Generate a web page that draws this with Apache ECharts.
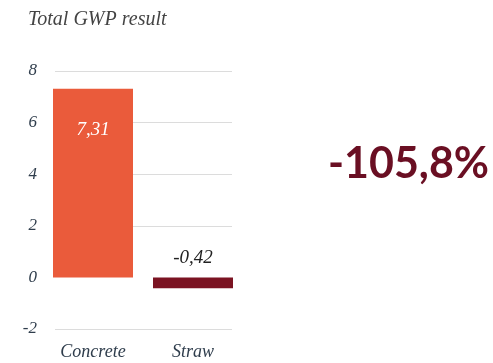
<!DOCTYPE html>
<html>
<head>
<meta charset="utf-8">
<script src="https://cdn.jsdelivr.net/npm/echarts@6/dist/echarts.min.js"></script>
<style>
  html, body { margin: 0; padding: 0; background: #fff; }
  #chart { width: 493px; height: 363px; }
</style>
</head>
<body>
<div id="chart"></div>
<script>
// Total global warming potential per building material
const categories = ['Concrete', 'Straw'];
const gwpValues = [7.31, -0.42];
const barColors = ['#EA5B3B', '#7B1322'];
const yTicks = [-2, 0, 2, 4, 6, 8];
// headline figure: change of the straw result relative to concrete
const headline = '-105,8%';

const serif = '"Liberation Serif", "DejaVu Serif", serif';
const fmt = v => v.toFixed(2).replace('.', ',');

const chart = echarts.init(document.getElementById('chart'));
chart.setOption({
  animation: false,
  title: {
    text: 'Total GWP result',
    left: 23, top: 5,
    textStyle: { fontFamily: serif, fontStyle: 'italic', fontWeight: 'normal', fontSize: 20, color: '#444' }
  },
  graphic: [{
    type: 'text',
    left: 328, top: 143,
    style: {
      text: headline,
      font: 'bold 43px Lato, "Open Sans", sans-serif',
      fill: '#6A0F23'
    }
  }],
  grid: [
    // grid carrying the horizontal rules and value labels
    { left: 55, width: 177, top: 71, height: 258 },
    // grid carrying the bars
    { left: 43, width: 200, top: 71, height: 258 }
  ],
  xAxis: [
    { gridIndex: 0, type: 'category', data: categories, show: false },
    {
      gridIndex: 1, type: 'category', data: categories,
      axisLine: { show: false }, axisTick: { show: false },
      axisLabel: { fontFamily: serif, fontStyle: 'italic', fontSize: 18, color: '#2f3d4c', margin: 14 }
    }
  ],
  yAxis: [
    {
      gridIndex: 0, type: 'value', min: yTicks[0], max: yTicks[yTicks.length - 1], interval: 2,
      axisLine: { show: false }, axisTick: { show: false },
      axisLabel: { fontFamily: serif, fontStyle: 'italic', fontSize: 17, color: '#2f3d4c', margin: 18 },
      splitLine: { lineStyle: { color: ['#dcdcdc', 'transparent', '#dcdcdc', '#dcdcdc', '#dcdcdc', '#dcdcdc'], width: 1 } }
    },
    {
      gridIndex: 1, type: 'value', min: yTicks[0], max: yTicks[yTicks.length - 1], interval: 2,
      show: false, splitLine: { show: false }
    }
  ],
  series: [{
    type: 'bar',
    xAxisIndex: 1, yAxisIndex: 1,
    barWidth: 80,
    data: gwpValues.map((v, i) => ({
      value: v,
      itemStyle: { color: barColors[i] },
      label: i === 0
        ? { show: true, position: 'insideTop', distance: 32, color: '#fff' }
        : { show: true, position: 'top', distance: 10, color: '#222' }
    })),
    label: {
      fontFamily: serif, fontStyle: 'italic', fontSize: 19,
      formatter: p => fmt(p.value)
    }
  }]
});
</script>
</body>
</html>
